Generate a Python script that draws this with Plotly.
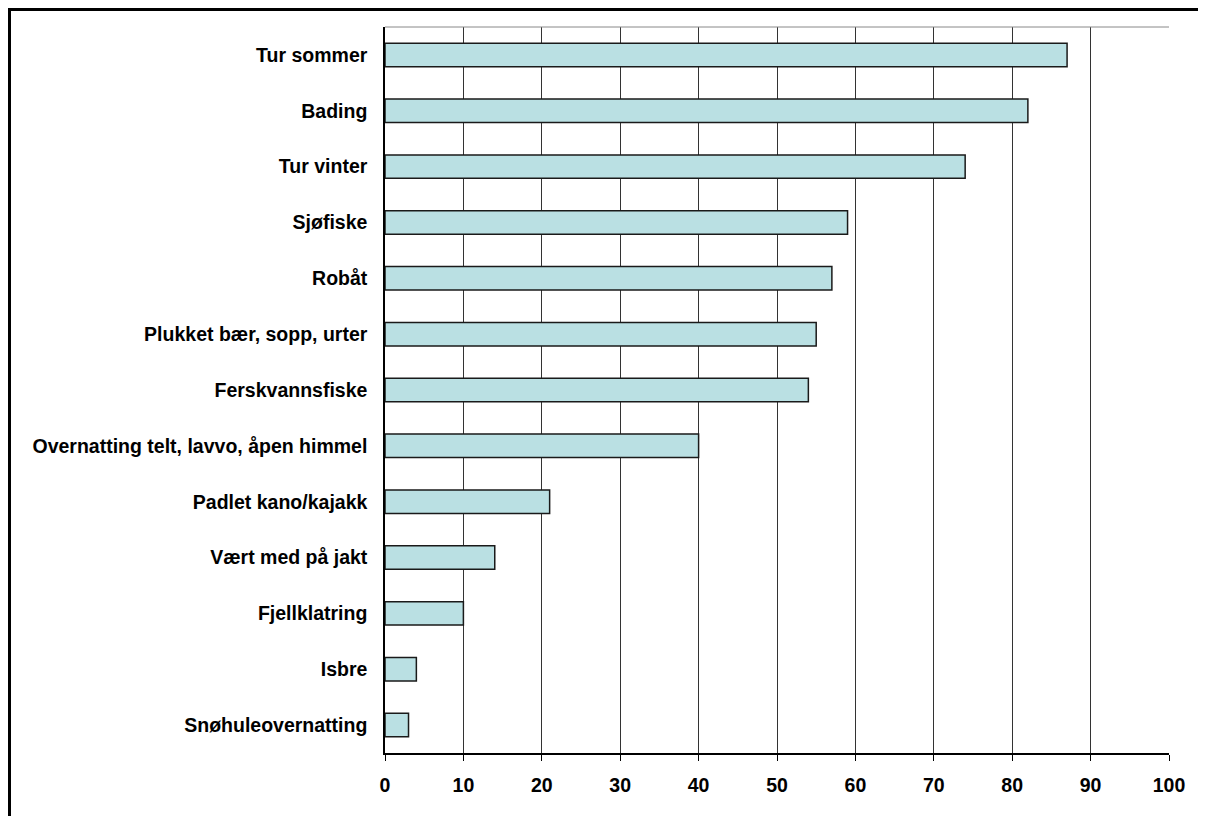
import plotly.graph_objects as go

# aktiviteter, fra topp til bunn
activities = ['Tur sommer', 'Bading', 'Tur vinter', 'Sjøfiske', 'Robåt',
              'Plukket bær, sopp, urter', 'Ferskvannsfiske',
              'Overnatting telt, lavvo, åpen himmel', 'Padlet kano/kajakk',
              'Vært med på jakt', 'Fjellklatring', 'Isbre', 'Snøhuleovernatting']
values = [87, 82, 74, 59, 57, 55, 54, 40, 21, 14, 10, 4, 3]
x_ticks = [0, 10, 20, 30, 40, 50, 60, 70, 80, 90, 100]

fig = go.Figure()

fig.add_trace(go.Bar(
    y=activities,
    x=values,
    orientation='h',
    marker=dict(color='#BAE0E3', line=dict(color='#1a1a1a', width=1.5)),
))

font = dict(family='Liberation Sans, Arial', size=19.5, color='#000000', weight='bold')

fig.update_xaxes(
    range=[0, 100],
    tickvals=x_ticks,
    showgrid=True,
    gridcolor='#333333',
    gridwidth=1.4,
    showline=True,
    linecolor='#000000',
    linewidth=1.5,
    ticks='outside',
    ticklen=6,
    tickcolor='#000000',
    ticklabelstandoff=8,
    zeroline=False,
    tickfont=font,
)

fig.update_yaxes(
    categoryorder='array',
    categoryarray=activities[::-1],
    showline=True,
    linecolor='#000000',
    linewidth=1.5,
    ticks='',
    ticklabelstandoff=12,
    tickfont=font,
)

# siden har 8px marg, så figuren flyttes tilsvarende
L, T, W_PLOT, H_PLOT = 377, 19, 784, 726

# ramme rundt hele figuren (bare venstre og topp synlig) + topplinje på plottet
fig.add_shape(type='rect', xref='paper', yref='paper',
              x0=(1.5 - L) / W_PLOT, x1=1.1, y0=-0.2, y1=1 + (T - 1.5) / H_PLOT,
              line=dict(color='#000000', width=3), fillcolor='rgba(0,0,0,0)', layer='above')
fig.add_shape(type='line', xref='paper', yref='paper', x0=0, x1=1, y0=1, y1=1,
              line=dict(color='#888888', width=1))

fig.update_layout(
    width=1206,
    height=816,
    margin=dict(l=L, r=1206 - L - W_PLOT, t=T, b=816 - T - H_PLOT),
    bargap=0.58,
    showlegend=False,
    plot_bgcolor='#ffffff',
    paper_bgcolor='#ffffff',
)

fig.write_html("out.html")
